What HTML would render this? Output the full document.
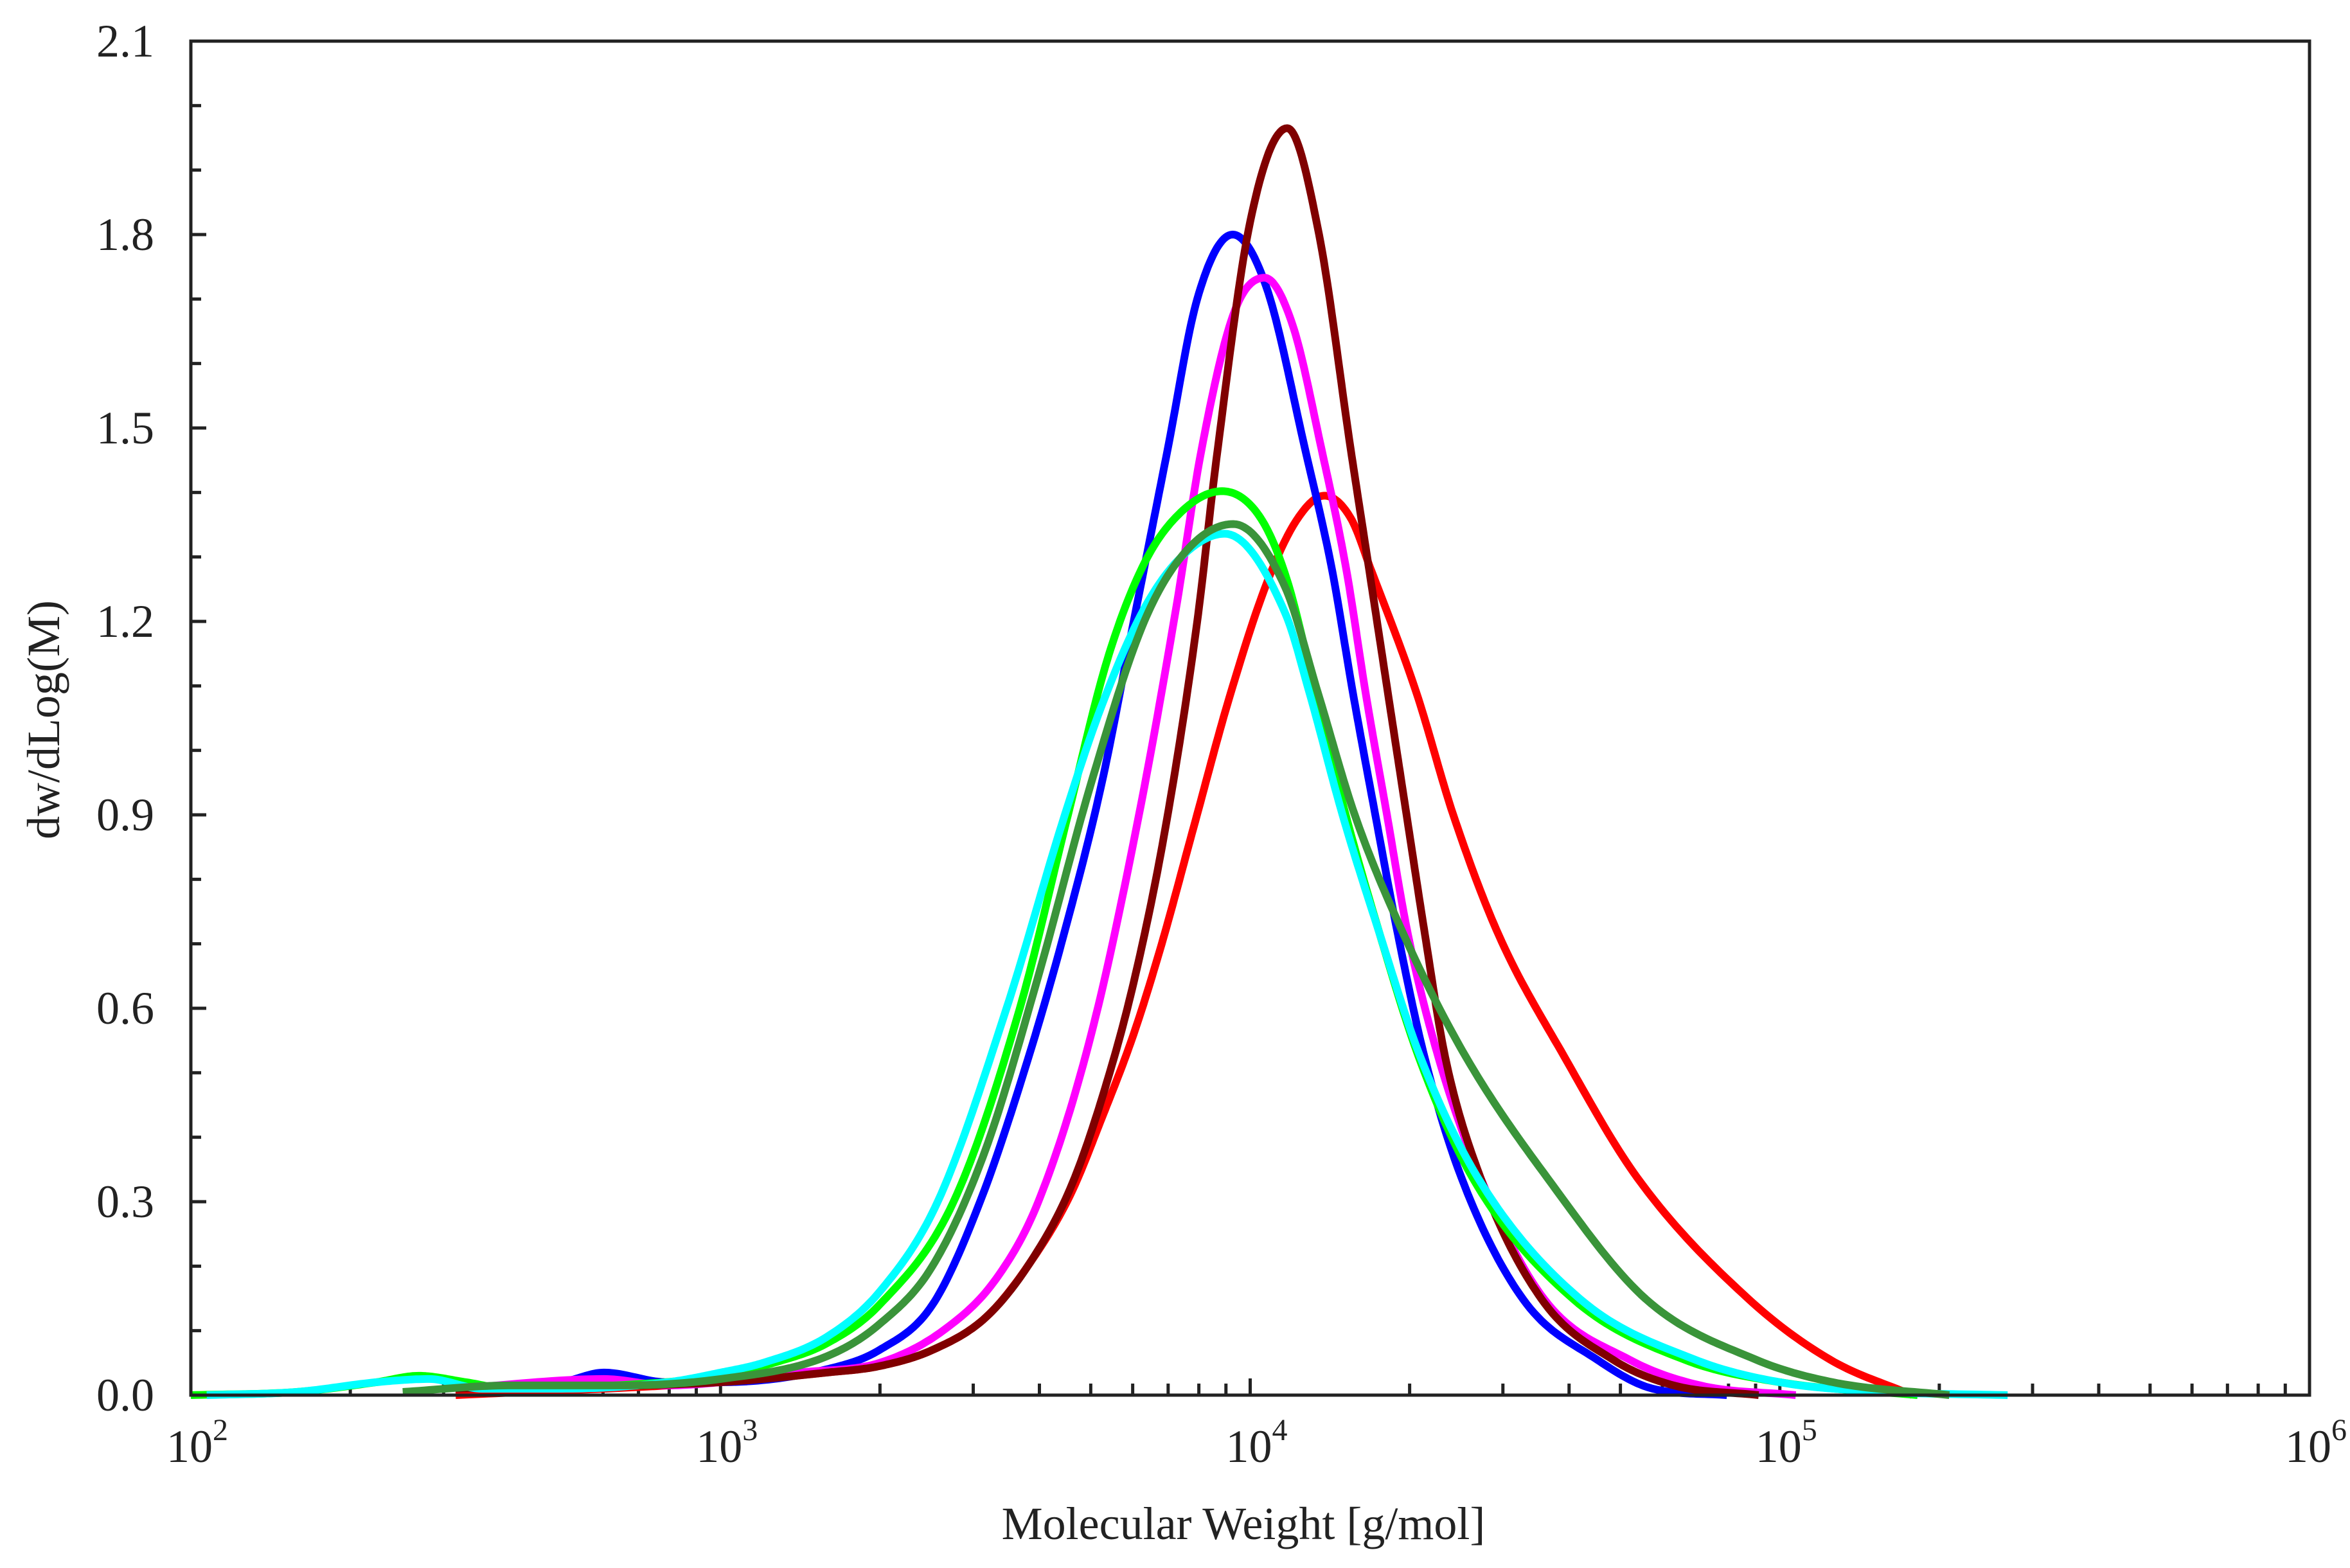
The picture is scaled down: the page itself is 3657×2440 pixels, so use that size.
<!DOCTYPE html>
<html><head><meta charset="utf-8"><style>
html,body{margin:0;padding:0;background:#fff}
svg{display:block}
text{font-family:"Liberation Serif",serif;fill:#222}
</style></head><body>
<svg id="chart" width="3657" height="2440" viewBox="0 0 3657 2440" xmlns="http://www.w3.org/2000/svg">
<g id="grid"></g>
<g id="series"></g>
<rect x="297" y="64" width="3297" height="2107" fill="none" stroke="#222" stroke-width="5"/>
<text x="1935" y="2395" font-size="72" text-anchor="middle">Molecular Weight [g/mol]</text>
<text x="0" y="0" font-size="72" text-anchor="middle" transform="translate(92,1120) rotate(-90)">dw/dLog(M)</text>
</svg>
<script>
const yTicks=[0.0,0.3,0.6,0.9,1.2,1.5,1.8,2.1];
const xDecades=[2,3,4,5,6];
const blueLog=[2.5,2.7,2.78,2.9,3.0,3.2,3.3,3.4,3.49,3.58,3.65,3.72,3.78,3.844,3.9,3.967,4.03,4.104,4.155,4.194,4.236,4.279,4.329,4.399,4.515,4.655,4.76,4.9];
const blueVal=[0.01,0.02,0.035,0.02,0.02,0.04,0.07,0.14,0.3,0.52,0.72,0.95,1.2,1.466,1.70,1.80,1.72,1.466,1.278,1.089,0.901,0.714,0.525,0.337,0.149,0.055,0.01,0];
const redLog=[2.5,3.0,3.2,3.3,3.4,3.5,3.58,3.66,3.72,3.78,3.833,3.893,3.96,4.033,4.09,4.14,4.19,4.229,4.314,4.383,4.469,4.593,4.731,4.941,5.095,5.25];
const redVal=[0,0.02,0.035,0.045,0.07,0.12,0.2,0.31,0.43,0.56,0.7,0.88,1.08,1.263,1.36,1.395,1.36,1.278,1.089,0.901,0.714,0.525,0.337,0.149,0.055,0];
const magentaLog=[2.5,2.78,2.9,3.0,3.15,3.3,3.42,3.52,3.6,3.7,3.79,3.86,3.908,3.97,4.027,4.08,4.135,4.182,4.218,4.258,4.298,4.355,4.435,4.555,4.716,4.85,5.03];
const magentaVal=[0.01,0.025,0.015,0.02,0.035,0.05,0.1,0.18,0.3,0.56,0.9,1.22,1.466,1.68,1.733,1.66,1.466,1.278,1.089,0.901,0.714,0.525,0.337,0.149,0.055,0.015,0];
const brownLog=[2.5,3.0,3.2,3.3,3.4,3.5,3.58,3.66,3.72,3.78,3.84,3.9,3.936,4.0,4.07,4.13,4.19,4.225,4.26,4.295,4.33,4.368,4.435,4.55,4.685,4.8,4.96];
const brownVal=[0.01,0.02,0.035,0.045,0.07,0.12,0.2,0.32,0.46,0.64,0.88,1.2,1.45,1.82,1.965,1.8,1.466,1.278,1.089,0.901,0.714,0.525,0.337,0.149,0.055,0.015,0];
const limeLog=[2.0,2.2,2.35,2.43,2.52,2.6,2.8,3.0,3.1,3.2,3.3,3.44,3.565,3.656,3.73,3.8,3.87,3.947,4.02,4.07,4.12,4.18,4.245,4.318,4.42,4.61,4.82,5.0,5.26];
const limeVal=[0,0.005,0.02,0.03,0.02,0.01,0.015,0.03,0.05,0.08,0.14,0.3,0.6,0.9,1.14,1.29,1.37,1.402,1.36,1.263,1.1,0.901,0.714,0.525,0.337,0.149,0.055,0.02,0];
const cyanLog=[2.03,2.2,2.35,2.45,2.55,2.7,2.9,3.0,3.08,3.2,3.3,3.41,3.54,3.65,3.72,3.8,3.87,3.952,4.066,4.112,4.174,4.245,4.321,4.43,4.623,4.84,5.0,5.2,5.43];
const cyanVal=[0,0.005,0.02,0.025,0.01,0.01,0.02,0.035,0.05,0.09,0.16,0.3,0.6,0.9,1.07,1.22,1.3,1.336,1.213,1.089,0.901,0.714,0.525,0.337,0.149,0.055,0.02,0.005,0];
const dgreenLog=[2.4,2.6,2.8,3.0,3.2,3.3,3.4,3.5,3.6,3.7,3.8,3.88,3.968,4.066,4.128,4.197,4.29,4.407,4.561,4.747,4.955,5.1,5.32];
const dgreenVal=[0.005,0.015,0.015,0.025,0.06,0.11,0.2,0.38,0.65,0.95,1.2,1.31,1.351,1.253,1.089,0.901,0.714,0.525,0.337,0.149,0.055,0.02,0];

const X0=297,X1=3594,Y0=2171,YT=64;
function xs(l){return X0+(l-2)/4*(X1-X0);}
function ys(v){return Y0-v/2.1*(Y0-YT);}
const NS="http://www.w3.org/2000/svg";
const grid=document.getElementById('grid');
const ser=document.getElementById('series');
function line(x1,y1,x2,y2){const e=document.createElementNS(NS,'line');e.setAttribute('x1',x1);e.setAttribute('y1',y1);e.setAttribute('x2',x2);e.setAttribute('y2',y2);e.setAttribute('stroke','#222');e.setAttribute('stroke-width',5);return e;}
for(let i=0;i<=21;i++){
  const v=i*0.1,y=ys(v),major=(i%3===0);
  const t=line(X0,y,X0+(major?24:16),y);
  
  
  grid.appendChild(t);
}
yTicks.forEach(v=>{
  const t=document.createElementNS(NS,'text');
  t.setAttribute('x',240);t.setAttribute('y',ys(v)+24);
  t.setAttribute('font-size',72);t.setAttribute('text-anchor','end');
  t.textContent=v.toFixed(1);
  
  
  grid.appendChild(t);
});
for(let d=2;d<6;d++){for(let m=2;m<=9;m++){
  const x=xs(d+Math.log10(m));
  const t=line(x,Y0,x,Y0-18);
  
  
  grid.appendChild(t);
}}
xDecades.forEach(d=>{
  const x=xs(d);
  const tk=line(x,Y0,x,Y0-26);
  
  
  grid.appendChild(tk);
  const t=document.createElementNS(NS,'text');
  t.setAttribute('x',x+10);t.setAttribute('y',2275);
  t.setAttribute('font-size',72);t.setAttribute('text-anchor','middle');
  t.innerHTML='10<tspan font-size="48" dy="-34">'+d+'</tspan>';
  
  
  grid.appendChild(t);
});
function pathFor(L,V){
  const n=L.length,dl=[],m=[];
  for(let i=0;i<n-1;i++)dl.push((V[i+1]-V[i])/(L[i+1]-L[i]));
  m[0]=dl[0];m[n-1]=dl[n-2];
  for(let i=1;i<n-1;i++){m[i]=(dl[i-1]*dl[i]<=0)?0:(dl[i-1]+dl[i])/2;}
  for(let i=0;i<n-1;i++){
    if(dl[i]===0){m[i]=0;m[i+1]=0;continue;}
    const a=m[i]/dl[i],b=m[i+1]/dl[i],s=a*a+b*b;
    if(s>9){const t=3/Math.sqrt(s);m[i]=t*a*dl[i];m[i+1]=t*b*dl[i];}
  }
  let d='';
  for(let i=0;i<n-1;i++){
    const h=L[i+1]-L[i];
    for(let k=0;k<=20;k++){
      if(i>0&&k===0)continue;
      const t=k/20,t2=t*t,t3=t2*t;
      const v=(2*t3-3*t2+1)*V[i]+(t3-2*t2+t)*h*m[i]+(-2*t3+3*t2)*V[i+1]+(t3-t2)*h*m[i+1];
      d+=(d?' L':'M')+xs(L[i]+t*h).toFixed(1)+','+ys(Math.max(0,v)).toFixed(1);
    }
  }
  return d;
}
const specs=[
 ['series-red',redLog,redVal,'#ff0000'],
 ['series-blue',blueLog,blueVal,'#0000ff'],
 ['series-magenta',magentaLog,magentaVal,'#ff00ff'],
 ['series-dark-red',brownLog,brownVal,'#800000'],
 ['series-lime',limeLog,limeVal,'#00ff00'],
 ['series-cyan',cyanLog,cyanVal,'#00ffff'],
 ['series-dark-green',dgreenLog,dgreenVal,'#3a943a']
];
specs.forEach(s=>{
  const e=document.createElementNS(NS,'path');
  e.setAttribute('d',pathFor(s[1],s[2]));
  e.setAttribute('fill','none');e.setAttribute('stroke',s[3]);
  e.setAttribute('stroke-width',12);e.setAttribute('stroke-linejoin','round');
  
  
  ser.appendChild(e);
});
</script>
</body></html>
